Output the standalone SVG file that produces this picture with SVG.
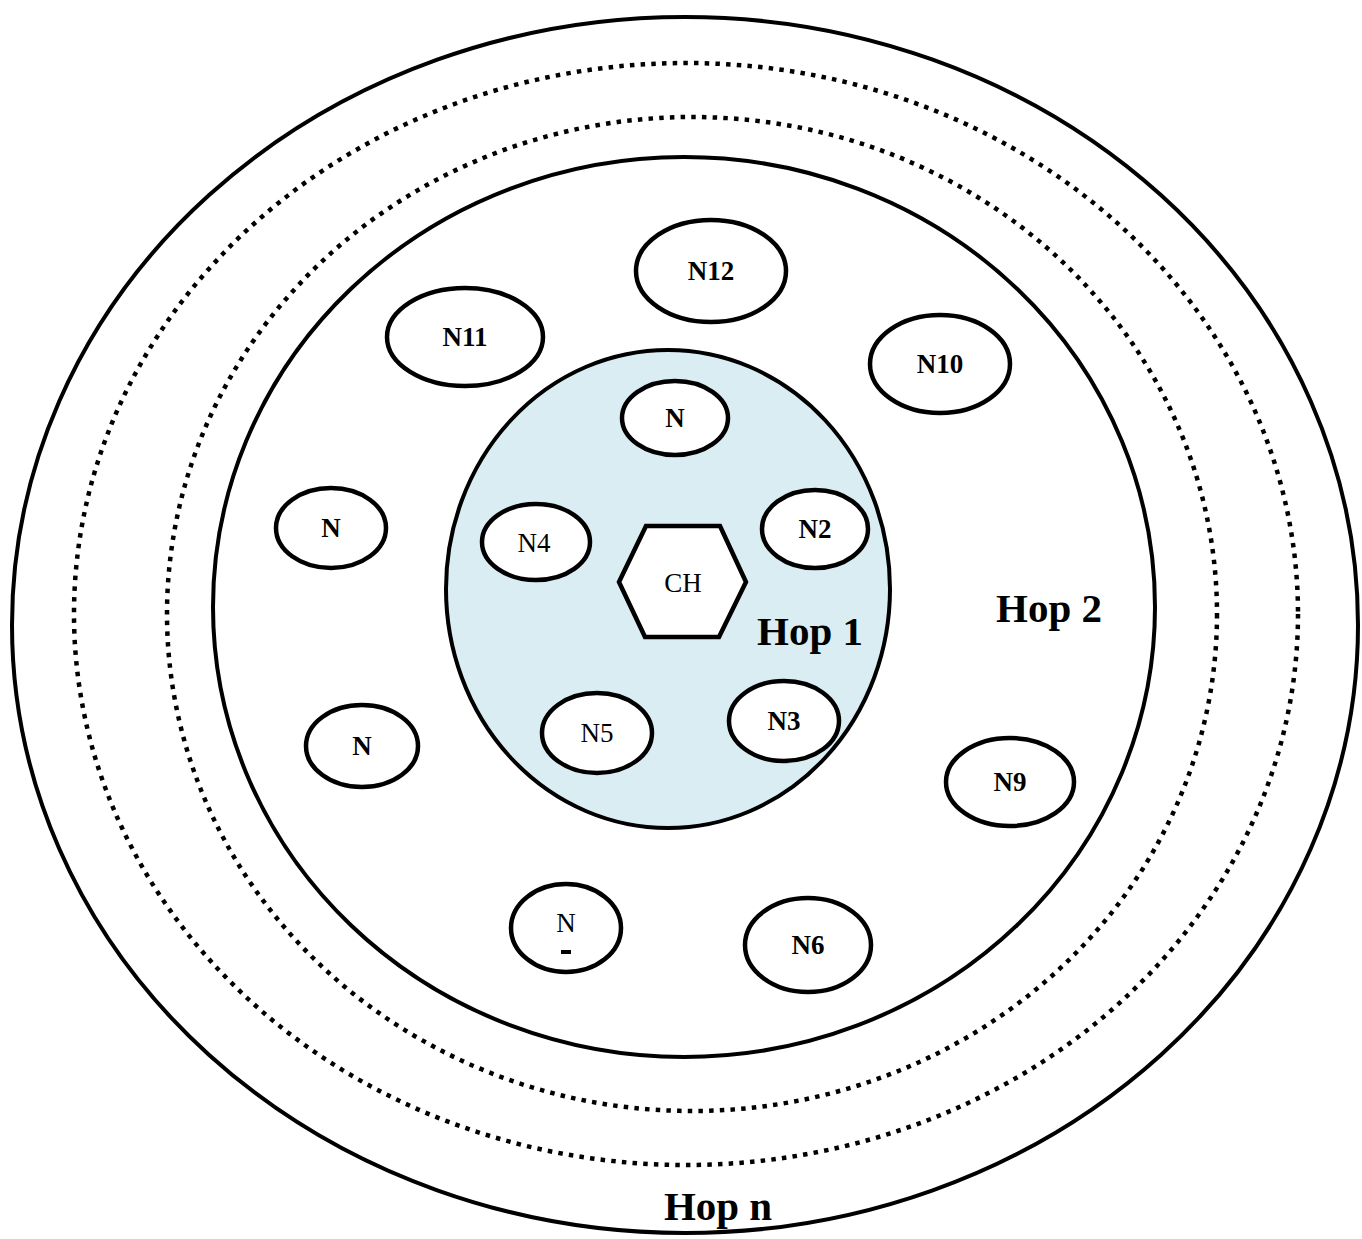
<svg xmlns="http://www.w3.org/2000/svg" width="1362" height="1239" viewBox="0 0 1362 1239">
  <style>
    .ring { fill: none; stroke: #000; stroke-width: 4; }
    .dots { fill: none; stroke: #000; stroke-width: 4.5; stroke-dasharray: 4.5 6.2; }
    .node { fill: #fff; stroke: #000; stroke-width: 4.5; }
    .lbl { font-family: "Liberation Serif", "Times New Roman", serif; font-size: 27px; text-anchor: middle; fill: #000; }
    .b { font-weight: bold; }
    .hop { font-family: "Liberation Serif", "Times New Roman", serif; font-weight: bold; font-size: 41px; text-anchor: middle; fill: #000; }
  </style>
  <rect width="1362" height="1239" fill="#fff"/>

  <!-- hop rings -->
  <g id="rings">
    <ellipse class="ring" cx="685" cy="625" rx="673" ry="608"/>
    <ellipse class="dots" cx="686" cy="614" rx="612" ry="551"/>
    <ellipse class="dots" cx="692" cy="614" rx="525" ry="497"/>
    <ellipse class="ring" cx="684" cy="607" rx="471" ry="450"/>
    <ellipse id="hop1-zone" cx="668" cy="589" rx="222" ry="239" fill="#DAEDF3" stroke="#000" stroke-width="4"/>
  </g>

  <g id="connectors"></g>

  <!-- cluster head -->
  <g id="ch">
    <polygon class="node" points="619,582 646,526 720,526 746,582 719,637 645,637"/>
    <text class="lbl" x="683" y="592" font-size="25">CH</text>
  </g>

  <!-- nodes -->
  <g id="n12"><ellipse class="node" cx="711" cy="271" rx="75" ry="51"/><text class="lbl b" x="711" y="280">N12</text></g>
  <g id="n11"><ellipse class="node" cx="465" cy="337" rx="78" ry="49"/><text class="lbl b" x="465" y="346">N11</text></g>
  <g id="n10"><ellipse class="node" cx="940" cy="364" rx="70" ry="49"/><text class="lbl b" x="940" y="373">N10</text></g>
  <g id="n-top"><ellipse class="node" cx="675" cy="418" rx="53" ry="37"/><text class="lbl b" x="675" y="427">N</text></g>
  <g id="n-left"><ellipse class="node" cx="331" cy="528" rx="55" ry="40"/><text class="lbl b" x="331" y="537">N</text></g>
  <g id="n4"><ellipse class="node" cx="536" cy="542" rx="54" ry="38"/><text class="lbl" x="534" y="552">N4</text></g>
  <g id="n2"><ellipse class="node" cx="815" cy="529" rx="53" ry="39"/><text class="lbl b" x="815" y="538">N2</text></g>
  <g id="n-lowleft"><ellipse class="node" cx="362" cy="746" rx="56" ry="41"/><text class="lbl b" x="362" y="755">N</text></g>
  <g id="n5"><ellipse class="node" cx="597" cy="733" rx="55" ry="40"/><text class="lbl" x="597" y="742">N5</text></g>
  <g id="n3"><ellipse class="node" cx="784" cy="721" rx="55" ry="40"/><text class="lbl b" x="784" y="730">N3</text></g>
  <g id="n9"><ellipse class="node" cx="1010" cy="782" rx="64" ry="44"/><text class="lbl b" x="1010" y="791">N9</text></g>
  <g id="n-bottom"><ellipse class="node" cx="566" cy="928" rx="55" ry="44"/><text class="lbl" x="566" y="932">N</text><rect x="561" y="950" width="10" height="4" fill="#000"/></g>
  <g id="n6"><ellipse class="node" cx="808" cy="945" rx="63" ry="47"/><text class="lbl b" x="808" y="954">N6</text></g>

  <!-- hop labels -->
  <g id="labels">
    <text class="hop" x="810" y="645">Hop 1</text>
    <text class="hop" x="1049" y="622">Hop 2</text>
    <text class="hop" x="718" y="1220">Hop n</text>
  </g>
</svg>
